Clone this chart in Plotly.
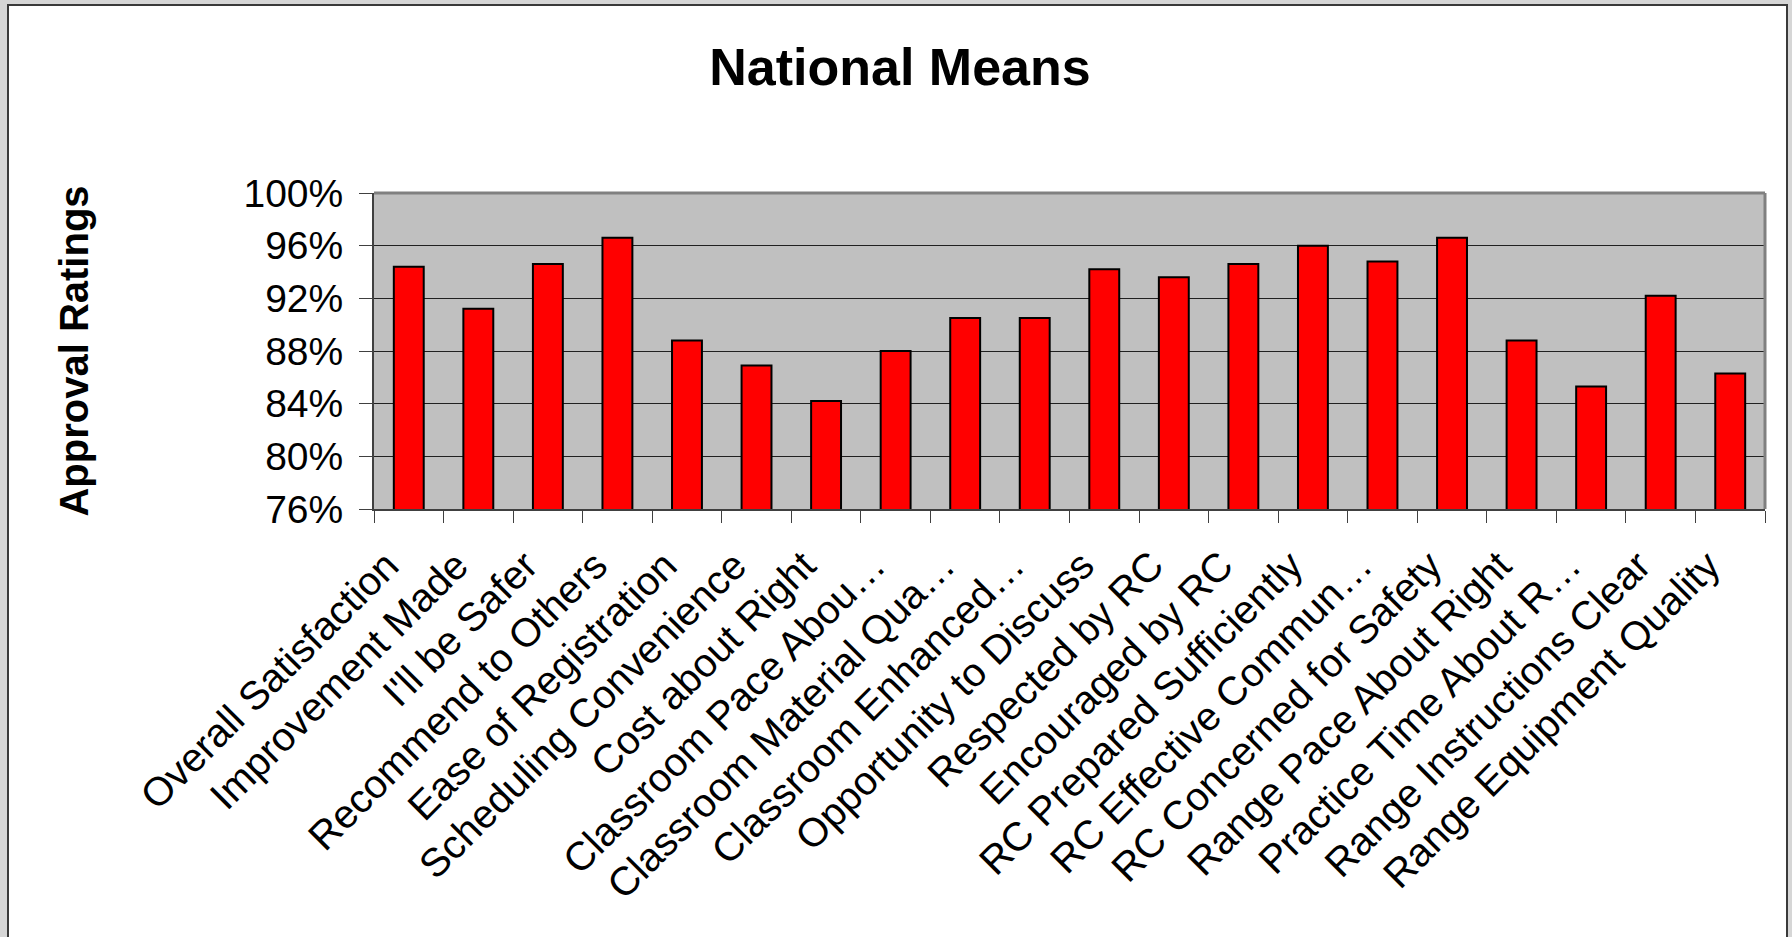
import plotly.graph_objects as go

categories = [
    "Overall Satisfaction", "Improvement Made", "I'll be Safer", "Recommend to Others",
    "Ease of Registration", "Scheduling Convenience", "Cost about Right",
    "Classroom Pace Abou…", "Classroom Material Qua…", "Classroom Enhanced…",
    "Opportunity to Discuss", "Respected by RC", "Encouraged by RC",
    "RC Prepared Sufficiently", "RC Effective Commun…", "RC Concerned for Safety",
    "Range Pace About Right", "Practice Time About R…", "Range Instructions Clear",
    "Range Equipment Quality",
]
approval = [
    0.944, 0.912, 0.946, 0.966, 0.888, 0.869, 0.842, 0.880, 0.905, 0.905,
    0.942, 0.936, 0.946, 0.960, 0.948, 0.966, 0.888, 0.853, 0.922, 0.863,
]
y_ticks = [0.76, 0.80, 0.84, 0.88, 0.92, 0.96, 1.00]

W, H = 1792, 937
L, R, T, B = 374, 27, 193, 428
PW, PH = W - L - R, H - T - B


def px_x(p):
    return (p - L) / PW


def px_y(p):
    return (H - B - p) / PH


FONT = "Liberation Sans, Arial, sans-serif"

fig = go.Figure()
fig.add_trace(go.Bar(
    x=categories, y=approval,
    marker=dict(color="#ff0000", line=dict(color="#000000", width=2)),
    hoverinfo="x+y",
))

fig.update_layout(
    width=W, height=H,
    margin=dict(l=L, r=R, t=T, b=B, pad=0),
    paper_bgcolor="#d6d6d6",
    plot_bgcolor="rgba(0,0,0,0)",
    bargap=0.57,
    showlegend=False,
    font=dict(family=FONT, color="#000000"),
    title=dict(
        text="<b>National Means</b>",
        font=dict(family=FONT, size=52, color="#000000"),
        x=900 / W, xref="container", xanchor="center",
        y=1 - 67 / H, yref="container", yanchor="middle",
    ),
    shapes=[
        dict(type="rect", xref="paper", yref="paper", layer="below",
             x0=px_x(8), x1=px_x(1787), y0=px_y(960), y1=px_y(5),
             fillcolor="#ffffff", line=dict(color="#3a3a3a", width=2)),
        dict(type="rect", xref="paper", yref="paper", layer="below",
             x0=0, x1=1, y0=0, y1=1,
             fillcolor="#c0c0c0", line=dict(width=0)),
        dict(type="line", xref="paper", yref="paper", layer="above",
             x0=0, x1=1, y0=1, y1=1, line=dict(color="#808080", width=3)),
        dict(type="line", xref="paper", yref="paper", layer="above",
             x0=1, x1=1, y0=0, y1=1, line=dict(color="#808080", width=3)),
    ],
)

fig.update_yaxes(
    range=[0.76, 1.0],
    tickvals=y_ticks,
    tickformat=".0%",
    tickfont=dict(family=FONT, size=39, color="#000000"),
    ticks="outside", ticklen=13, tickwidth=1, tickcolor="#404040",
    ticklabelstandoff=8,
    showline=True, linecolor="#404040", linewidth=2,
    showgrid=True, gridcolor="#202020", gridwidth=1,
    zeroline=False,
    automargin=False,
    title=dict(text="<b>Approval Ratings</b>",
               font=dict(family=FONT, size=40, color="#000000"),
               standoff=142),
)
fig.update_xaxes(
    type="category",
    tickangle=-45,
    tickfont=dict(family=FONT, size=40, color="#000000"),
    ticks="outside", tickson="boundaries", ticklen=12, tickwidth=1, tickcolor="#404040",
    ticklabelstandoff=15, ticklabelshift=-22,
    showline=True, linecolor="#404040", linewidth=2,
    showgrid=False, zeroline=False,
    automargin=False,
)

fig.write_html("out.html")
